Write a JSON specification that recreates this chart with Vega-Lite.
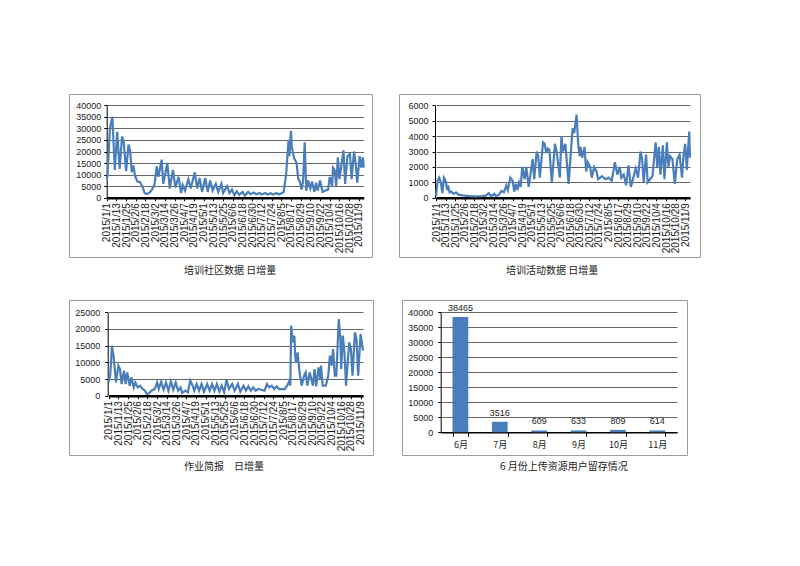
{
  "$schema": "https://vega.github.io/schema/vega-lite/v6.json",
  "background": "white",
  "padding": {"left": 68, "top": 93, "right": 5, "bottom": 5},
  "datasets": {
    "community": [
      {"d":"2015/1/1","v":8000},{"d":"2015/1/2","v":9500},{"d":"2015/1/5","v":30000},{"d":"2015/1/8","v":35000},
      {"d":"2015/1/11","v":12000},{"d":"2015/1/14","v":28500},{"d":"2015/1/17","v":12500},{"d":"2015/1/20","v":26500},
      {"d":"2015/1/22","v":24500},{"d":"2015/1/25","v":11500},{"d":"2015/1/28","v":23000},{"d":"2015/1/30","v":20500},
      {"d":"2015/2/1","v":11000},{"d":"2015/2/3","v":14000},{"d":"2015/2/5","v":9500},{"d":"2015/2/8","v":7000},
      {"d":"2015/2/11","v":6800},{"d":"2015/2/14","v":5000},{"d":"2015/2/17","v":2000},{"d":"2015/2/20","v":1600},
      {"d":"2015/2/23","v":2200},{"d":"2015/2/26","v":3500},{"d":"2015/3/1","v":5500},{"d":"2015/3/4","v":13500},
      {"d":"2015/3/6","v":9000},{"d":"2015/3/10","v":16500},{"d":"2015/3/12","v":6000},{"d":"2015/3/17","v":15000},
      {"d":"2015/3/20","v":4000},{"d":"2015/3/24","v":12000},{"d":"2015/3/27","v":4500},{"d":"2015/3/31","v":9000},
      {"d":"2015/4/3","v":2000},{"d":"2015/4/5","v":5500},{"d":"2015/4/8","v":3000},{"d":"2015/4/12","v":8000},
      {"d":"2015/4/15","v":4000},{"d":"2015/4/20","v":11000},{"d":"2015/4/23","v":4000},{"d":"2015/4/26","v":8500},
      {"d":"2015/4/29","v":2500},{"d":"2015/5/3","v":8500},{"d":"2015/5/6","v":2500},{"d":"2015/5/9","v":7500},
      {"d":"2015/5/12","v":3000},{"d":"2015/5/16","v":6000},{"d":"2015/5/19","v":2500},{"d":"2015/5/23","v":6000},
      {"d":"2015/5/25","v":2000},{"d":"2015/5/30","v":5000},{"d":"2015/6/2","v":2000},{"d":"2015/6/5","v":3500},
      {"d":"2015/6/8","v":1000},{"d":"2015/6/11","v":2800},{"d":"2015/6/14","v":1200},{"d":"2015/6/18","v":2500},
      {"d":"2015/6/21","v":900},{"d":"2015/6/25","v":2500},{"d":"2015/6/28","v":1500},{"d":"2015/7/2","v":2200},
      {"d":"2015/7/5","v":1500},{"d":"2015/7/9","v":2000},{"d":"2015/7/12","v":1400},{"d":"2015/7/16","v":2000},
      {"d":"2015/7/19","v":1400},{"d":"2015/7/23","v":1900},{"d":"2015/7/26","v":1400},{"d":"2015/7/30","v":2000},
      {"d":"2015/8/2","v":1400},{"d":"2015/8/6","v":2000},{"d":"2015/8/8","v":2500},{"d":"2015/8/11","v":10000},
      {"d":"2015/8/14","v":25000},{"d":"2015/8/15","v":18000},{"d":"2015/8/17","v":29000},{"d":"2015/8/18","v":22000},
      {"d":"2015/8/21","v":17000},{"d":"2015/8/24","v":15000},{"d":"2015/8/26","v":8000},{"d":"2015/8/28","v":7000},
      {"d":"2015/8/30","v":3500},{"d":"2015/9/1","v":7000},{"d":"2015/9/3","v":24000},{"d":"2015/9/5","v":3000},
      {"d":"2015/9/7","v":7500},{"d":"2015/9/10","v":4000},{"d":"2015/9/12","v":7000},{"d":"2015/9/15","v":2500},
      {"d":"2015/9/17","v":6500},{"d":"2015/9/19","v":3000},{"d":"2015/9/22","v":7500},{"d":"2015/9/25","v":2500},
      {"d":"2015/9/28","v":3000},{"d":"2015/10/2","v":3500},{"d":"2015/10/4","v":9000},{"d":"2015/10/7","v":5000},
      {"d":"2015/10/8","v":13000},{"d":"2015/10/10","v":12000},{"d":"2015/10/12","v":5000},{"d":"2015/10/14","v":17500},
      {"d":"2015/10/16","v":8000},{"d":"2015/10/21","v":20500},{"d":"2015/10/23","v":6000},{"d":"2015/10/26","v":18000},
      {"d":"2015/10/29","v":19000},{"d":"2015/10/31","v":8000},{"d":"2015/11/3","v":20000},{"d":"2015/11/5","v":15000},
      {"d":"2015/11/7","v":6500},{"d":"2015/11/10","v":18000},{"d":"2015/11/12","v":13000},{"d":"2015/11/14","v":17500},
      {"d":"2015/11/15","v":13000}
    ],
    "activity": [
      {"d":"2015/1/1","v":100},{"d":"2015/1/3","v":1100},{"d":"2015/1/5","v":1300},{"d":"2015/1/7","v":1000},
      {"d":"2015/1/9","v":300},{"d":"2015/1/11","v":1300},{"d":"2015/1/13","v":1100},{"d":"2015/1/15","v":500},
      {"d":"2015/1/16","v":800},{"d":"2015/1/18","v":350},{"d":"2015/1/20","v":400},{"d":"2015/1/23","v":250},
      {"d":"2015/1/26","v":350},{"d":"2015/1/29","v":200},{"d":"2015/2/4","v":150},{"d":"2015/2/12","v":100},
      {"d":"2015/2/20","v":80},{"d":"2015/2/28","v":100},{"d":"2015/3/5","v":150},{"d":"2015/3/8","v":300},
      {"d":"2015/3/11","v":100},{"d":"2015/3/15","v":250},{"d":"2015/3/17","v":100},{"d":"2015/3/21","v":200},
      {"d":"2015/3/24","v":450},{"d":"2015/3/27","v":350},{"d":"2015/3/30","v":800},{"d":"2015/4/1","v":500},
      {"d":"2015/4/4","v":1300},{"d":"2015/4/7","v":1100},{"d":"2015/4/9","v":400},{"d":"2015/4/11","v":900},
      {"d":"2015/4/13","v":500},{"d":"2015/4/15","v":1000},{"d":"2015/4/17","v":700},{"d":"2015/4/19","v":2000},
      {"d":"2015/4/22","v":1200},{"d":"2015/4/24","v":2000},{"d":"2015/4/27","v":700},{"d":"2015/5/2","v":2500},
      {"d":"2015/5/4","v":1200},{"d":"2015/5/7","v":3000},{"d":"2015/5/9","v":2700},{"d":"2015/5/11","v":1300},
      {"d":"2015/5/15","v":3600},{"d":"2015/5/17","v":3500},{"d":"2015/5/19","v":2900},{"d":"2015/5/21","v":3200},
      {"d":"2015/5/23","v":3100},{"d":"2015/5/26","v":1000},{"d":"2015/5/30","v":3500},{"d":"2015/6/1","v":3000},
      {"d":"2015/6/5","v":1300},{"d":"2015/6/7","v":4000},{"d":"2015/6/9","v":3000},{"d":"2015/6/12","v":3500},
      {"d":"2015/6/16","v":900},{"d":"2015/6/21","v":4500},{"d":"2015/6/23","v":4200},{"d":"2015/6/26","v":5400},
      {"d":"2015/6/28","v":3500},{"d":"2015/6/30","v":2700},{"d":"2015/7/1","v":3300},{"d":"2015/7/3","v":2600},
      {"d":"2015/7/6","v":3300},{"d":"2015/7/8","v":1700},{"d":"2015/7/10","v":2300},{"d":"2015/7/13","v":2000},
      {"d":"2015/7/15","v":1300},{"d":"2015/7/18","v":2000},{"d":"2015/7/21","v":1700},{"d":"2015/7/23","v":1200},
      {"d":"2015/7/28","v":1400},{"d":"2015/8/1","v":1200},{"d":"2015/8/5","v":1300},{"d":"2015/8/9","v":1100},
      {"d":"2015/8/13","v":2300},{"d":"2015/8/16","v":1500},{"d":"2015/8/19","v":2000},{"d":"2015/8/21","v":1300},
      {"d":"2015/8/24","v":1500},{"d":"2015/8/27","v":800},{"d":"2015/8/30","v":2100},{"d":"2015/9/2","v":700},
      {"d":"2015/9/5","v":1300},{"d":"2015/9/8","v":1900},{"d":"2015/9/11","v":1300},{"d":"2015/9/14","v":3000},
      {"d":"2015/9/16","v":2500},{"d":"2015/9/18","v":1000},{"d":"2015/9/21","v":2800},{"d":"2015/9/23","v":1000},
      {"d":"2015/9/26","v":1200},{"d":"2015/9/29","v":1400},{"d":"2015/10/3","v":3600},{"d":"2015/10/5","v":2000},
      {"d":"2015/10/7","v":3300},{"d":"2015/10/9","v":1500},{"d":"2015/10/12","v":3400},{"d":"2015/10/14","v":1200},
      {"d":"2015/10/17","v":3600},{"d":"2015/10/19","v":2000},{"d":"2015/10/21","v":2700},{"d":"2015/10/24","v":2500},
      {"d":"2015/10/27","v":900},{"d":"2015/10/30","v":2500},{"d":"2015/11/2","v":2800},{"d":"2015/11/5","v":1300},
      {"d":"2015/11/7","v":2800},{"d":"2015/11/9","v":3500},{"d":"2015/11/11","v":1800},{"d":"2015/11/14","v":4300},
      {"d":"2015/11/15","v":2600}
    ],
    "homework": [
      {"d":"2015/1/1","v":4000},{"d":"2015/1/3","v":6500},{"d":"2015/1/5","v":15000},{"d":"2015/1/7","v":12000},
      {"d":"2015/1/10","v":4000},{"d":"2015/1/13","v":9000},{"d":"2015/1/15","v":8000},{"d":"2015/1/17","v":3500},
      {"d":"2015/1/20","v":7500},{"d":"2015/1/22","v":3500},{"d":"2015/1/24","v":7000},{"d":"2015/1/27","v":3000},
      {"d":"2015/1/29","v":5500},{"d":"2015/2/1","v":2500},{"d":"2015/2/3","v":4000},{"d":"2015/2/6","v":2500},
      {"d":"2015/2/9","v":3000},{"d":"2015/2/12","v":2000},{"d":"2015/2/15","v":1500},{"d":"2015/2/17","v":500},
      {"d":"2015/2/20","v":700},{"d":"2015/2/23","v":1500},{"d":"2015/2/27","v":2000},{"d":"2015/3/2","v":4000},
      {"d":"2015/3/4","v":2000},{"d":"2015/3/7","v":4200},{"d":"2015/3/10","v":1800},{"d":"2015/3/13","v":4000},
      {"d":"2015/3/16","v":1500},{"d":"2015/3/19","v":4300},{"d":"2015/3/22","v":1800},{"d":"2015/3/25","v":4000},
      {"d":"2015/3/28","v":1500},{"d":"2015/3/31","v":2500},{"d":"2015/4/2","v":800},{"d":"2015/4/6","v":1500},
      {"d":"2015/4/9","v":1000},{"d":"2015/4/12","v":4500},{"d":"2015/4/15","v":3000},{"d":"2015/4/17","v":1500},
      {"d":"2015/4/20","v":3500},{"d":"2015/4/23","v":1500},{"d":"2015/4/26","v":3500},{"d":"2015/4/29","v":1200},
      {"d":"2015/5/3","v":3500},{"d":"2015/5/6","v":1500},{"d":"2015/5/9","v":3500},{"d":"2015/5/12","v":1500},
      {"d":"2015/5/15","v":3500},{"d":"2015/5/18","v":1200},{"d":"2015/5/21","v":3000},{"d":"2015/5/24","v":1000},
      {"d":"2015/5/27","v":4800},{"d":"2015/5/30","v":2000},{"d":"2015/6/3","v":3500},{"d":"2015/6/6","v":1500},
      {"d":"2015/6/10","v":3500},{"d":"2015/6/13","v":1200},{"d":"2015/6/17","v":3000},{"d":"2015/6/20","v":1500},
      {"d":"2015/6/23","v":2800},{"d":"2015/6/26","v":1500},{"d":"2015/6/29","v":2500},{"d":"2015/7/2","v":1500},
      {"d":"2015/7/5","v":2000},{"d":"2015/7/9","v":1800},{"d":"2015/7/13","v":1500},{"d":"2015/7/16","v":3500},
      {"d":"2015/7/19","v":2500},{"d":"2015/7/22","v":3000},{"d":"2015/7/25","v":2000},{"d":"2015/7/28","v":2800},
      {"d":"2015/7/31","v":2000},{"d":"2015/8/3","v":2000},{"d":"2015/8/7","v":2000},{"d":"2015/8/10","v":3000},
      {"d":"2015/8/13","v":4500},{"d":"2015/8/14","v":3000},{"d":"2015/8/15","v":21000},{"d":"2015/8/17","v":16000},
      {"d":"2015/8/19","v":18000},{"d":"2015/8/20","v":12000},{"d":"2015/8/21","v":10000},{"d":"2015/8/23","v":13000},
      {"d":"2015/8/25","v":8000},{"d":"2015/8/26","v":6000},{"d":"2015/8/28","v":3000},{"d":"2015/8/31","v":6000},
      {"d":"2015/9/2","v":7000},{"d":"2015/9/4","v":3000},{"d":"2015/9/7","v":7000},{"d":"2015/9/9","v":5000},
      {"d":"2015/9/11","v":3000},{"d":"2015/9/13","v":8000},{"d":"2015/9/15","v":2800},{"d":"2015/9/18","v":8500},
      {"d":"2015/9/20","v":5000},{"d":"2015/9/21","v":9000},{"d":"2015/9/23","v":3000},{"d":"2015/9/27","v":3000},
      {"d":"2015/9/30","v":6000},{"d":"2015/10/2","v":12000},{"d":"2015/10/4","v":9000},{"d":"2015/10/6","v":14000},
      {"d":"2015/10/8","v":6000},{"d":"2015/10/10","v":6000},{"d":"2015/10/13","v":23000},{"d":"2015/10/15","v":17000},
      {"d":"2015/10/16","v":8000},{"d":"2015/10/18","v":18000},{"d":"2015/10/20","v":13000},{"d":"2015/10/22","v":3000},
      {"d":"2015/10/24","v":10000},{"d":"2015/10/26","v":16000},{"d":"2015/10/28","v":14000},{"d":"2015/10/30","v":6000},
      {"d":"2015/11/2","v":19000},{"d":"2015/11/4","v":17000},{"d":"2015/11/6","v":6000},{"d":"2015/11/9","v":18500},
      {"d":"2015/11/12","v":13500}
    ],
    "retention": [
      {"m":"6月","n":38465},{"m":"7月","n":3516},{"m":"8月","n":609},
      {"m":"9月","n":633},{"m":"10月","n":809},{"m":"11月","n":614}
    ]
  },
  "vconcat": [
    {
      "spacing": 25,
      "hconcat": [
        {
          "width": 303, "height": 163,
          "data": {"name": "community"},
          "title": {"text": "培训社区数据 日增量", "orient": "bottom", "anchor": "start", "dx": 115, "offset": 9},
          "mark": {"type": "line", "color": "#4a7ebb", "strokeWidth": 2.2},
          "encoding": {
            "x": {"field": "d", "type": "temporal",
              "scale": {"range": [37.7, 294.7], "nice": false},
              "axis": {"title": null, "offset": -59.3, "format": "%Y/%-m/%-d", "labelAngle": -90, "labelFontSize": 10,
                "labelOverlap": false, "labelFlush": false, "labelPadding": 2, "tickSize": 3, "domainWidth": 2.5, "grid": false,
                "values": [{"year":2015,"month":1,"date":1},{"year":2015,"month":1,"date":13},{"year":2015,"month":1,"date":25},{"year":2015,"month":2,"date":6},{"year":2015,"month":2,"date":18},{"year":2015,"month":3,"date":2},{"year":2015,"month":3,"date":14},{"year":2015,"month":3,"date":26},{"year":2015,"month":4,"date":7},{"year":2015,"month":4,"date":19},{"year":2015,"month":5,"date":1},{"year":2015,"month":5,"date":13},{"year":2015,"month":5,"date":25},{"year":2015,"month":6,"date":6},{"year":2015,"month":6,"date":18},{"year":2015,"month":6,"date":30},{"year":2015,"month":7,"date":12},{"year":2015,"month":7,"date":24},{"year":2015,"month":8,"date":5},{"year":2015,"month":8,"date":17},{"year":2015,"month":8,"date":29},{"year":2015,"month":9,"date":10},{"year":2015,"month":9,"date":22},{"year":2015,"month":10,"date":4},{"year":2015,"month":10,"date":16},{"year":2015,"month":10,"date":28},{"year":2015,"month":11,"date":9}]}},
            "y": {"field": "v", "type": "quantitative",
              "scale": {"domain": [0, 40000], "range": [103.7, 11.3], "nice": false},
              "axis": {"title": null, "offset": -37.7, "format": "d", "values": [0,5000,10000,15000,20000,25000,30000,35000,40000],
                "tickSize": 3, "labelPadding": 3, "grid": true}}
          }
        },
        {
          "width": 301, "height": 163,
          "data": {"name": "activity"},
          "title": {"text": "培训活动数据 日增量", "orient": "bottom", "anchor": "start", "dx": 107, "offset": 9},
          "mark": {"type": "line", "color": "#4a7ebb", "strokeWidth": 2.2},
          "encoding": {
            "x": {"field": "d", "type": "temporal",
              "scale": {"range": [37, 291], "nice": false},
              "axis": {"title": null, "offset": -59.3, "format": "%Y/%-m/%-d", "labelAngle": -90, "labelFontSize": 10,
                "labelOverlap": false, "labelFlush": false, "labelPadding": 2, "tickSize": 3, "domainWidth": 2.5, "grid": false,
                "values": [{"year":2015,"month":1,"date":1},{"year":2015,"month":1,"date":13},{"year":2015,"month":1,"date":25},{"year":2015,"month":2,"date":6},{"year":2015,"month":2,"date":18},{"year":2015,"month":3,"date":2},{"year":2015,"month":3,"date":14},{"year":2015,"month":3,"date":26},{"year":2015,"month":4,"date":7},{"year":2015,"month":4,"date":19},{"year":2015,"month":5,"date":1},{"year":2015,"month":5,"date":13},{"year":2015,"month":5,"date":25},{"year":2015,"month":6,"date":6},{"year":2015,"month":6,"date":18},{"year":2015,"month":6,"date":30},{"year":2015,"month":7,"date":12},{"year":2015,"month":7,"date":24},{"year":2015,"month":8,"date":5},{"year":2015,"month":8,"date":17},{"year":2015,"month":8,"date":29},{"year":2015,"month":9,"date":10},{"year":2015,"month":9,"date":22},{"year":2015,"month":10,"date":4},{"year":2015,"month":10,"date":16},{"year":2015,"month":10,"date":28},{"year":2015,"month":11,"date":9}]}},
            "y": {"field": "v", "type": "quantitative",
              "scale": {"domain": [0, 6000], "range": [103.7, 11.3], "nice": false},
              "axis": {"title": null, "offset": -36, "format": "d", "values": [0,1000,2000,3000,4000,5000,6000],
                "tickSize": 3, "labelPadding": 4, "grid": true}}
          }
        }
      ]
    },
    {
      "spacing": 27,
      "hconcat": [
        {
          "width": 304, "height": 155,
          "data": {"name": "homework"},
          "title": {"text": "作业简报　日增量", "orient": "bottom", "anchor": "start", "dx": 115, "offset": 7},
          "mark": {"type": "line", "color": "#4a7ebb", "strokeWidth": 2.2},
          "encoding": {
            "x": {"field": "d", "type": "temporal",
              "scale": {"range": [39.7, 294], "nice": false},
              "axis": {"title": null, "offset": -59.3, "format": "%Y/%-m/%-d", "labelAngle": -90, "labelFontSize": 10,
                "labelOverlap": false, "labelFlush": false, "labelPadding": 2, "tickSize": 3, "domainWidth": 2.5, "grid": false,
                "values": [{"year":2015,"month":1,"date":1},{"year":2015,"month":1,"date":13},{"year":2015,"month":1,"date":25},{"year":2015,"month":2,"date":6},{"year":2015,"month":2,"date":18},{"year":2015,"month":3,"date":2},{"year":2015,"month":3,"date":14},{"year":2015,"month":3,"date":26},{"year":2015,"month":4,"date":7},{"year":2015,"month":4,"date":19},{"year":2015,"month":5,"date":1},{"year":2015,"month":5,"date":13},{"year":2015,"month":5,"date":25},{"year":2015,"month":6,"date":6},{"year":2015,"month":6,"date":18},{"year":2015,"month":6,"date":30},{"year":2015,"month":7,"date":12},{"year":2015,"month":7,"date":24},{"year":2015,"month":8,"date":5},{"year":2015,"month":8,"date":17},{"year":2015,"month":8,"date":29},{"year":2015,"month":9,"date":10},{"year":2015,"month":9,"date":22},{"year":2015,"month":10,"date":4},{"year":2015,"month":10,"date":16},{"year":2015,"month":10,"date":28},{"year":2015,"month":11,"date":9}]}},
            "y": {"field": "v", "type": "quantitative",
              "scale": {"domain": [0, 25000], "range": [95.7, 12.3], "nice": false},
              "axis": {"title": null, "offset": -38.7, "format": "d", "values": [0,5000,10000,15000,20000,25000],
                "tickSize": 3, "labelPadding": 5, "grid": true}}
          }
        },
        {
          "width": 285, "height": 155,
          "data": {"name": "retention"},
          "title": {"text": "6 月份上传资源用户留存情况", "orient": "bottom", "anchor": "start", "dx": 98, "offset": 7},
          "encoding": {
            "x": {"field": "m", "type": "nominal", "sort": null,
              "scale": {"range": [38.7, 275], "paddingInner": 0.6, "paddingOuter": 0.3},
              "axis": {"title": null, "offset": -22.7, "labelAngle": 0, "labelFont": "Noto Sans CJK SC", "labelFontSize": 9,
                "tickBand": "extent", "tickSize": 4, "labelPadding": 4, "domainWidth": 1.5, "grid": false}},
            "y": {"field": "n", "type": "quantitative",
              "scale": {"domain": [0, 40000], "range": [132.3, 12.3], "nice": false},
              "axis": {"title": null, "offset": -38.7, "format": "d", "values": [0,5000,10000,15000,20000,25000,30000,35000,40000],
                "tickSize": 3, "labelPadding": 5, "grid": true}}
          },
          "layer": [
            {"mark": {"type": "bar", "color": "#4a7ebb"}},
            {"mark": {"type": "text", "baseline": "alphabetic", "dy": -6, "fontSize": 9, "color": "#1a1a1a"},
             "encoding": {"text": {"field": "n", "type": "quantitative", "format": "d"}}}
          ]
        }
      ]
    }
  ],
  "spacing": 22,
  "config": {
    "view": {"stroke": "#9c9c9c", "strokeWidth": 1},
    "font": "Liberation Sans",
    "axis": {
      "labelFont": "Liberation Sans", "labelColor": "#1a1a1a", "labelFontSize": 9,
      "domainColor": "#000000", "tickColor": "#000000", "gridColor": "#666666", "gridWidth": 1
    },
    "title": {"font": "Noto Sans CJK SC", "fontSize": 10, "fontWeight": "normal", "color": "#222222"}
  }
}
